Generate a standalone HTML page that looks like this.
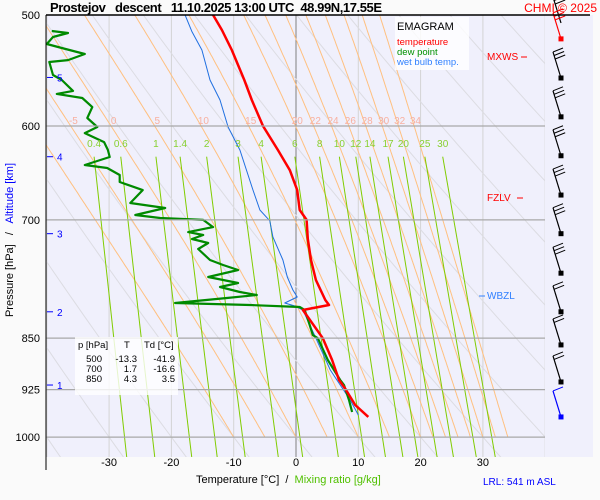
<!DOCTYPE html>
<html><head><meta charset="utf-8"><style>
html,body{margin:0;padding:0;background:#fafafa;}
body{width:600px;height:500px;overflow:hidden;font-family:"Liberation Sans",sans-serif;}
svg{display:block;}
svg text{font-family:"Liberation Sans",sans-serif;white-space:pre;}
</style></head><body>
<svg id="c" width="600" height="500" xmlns="http://www.w3.org/2000/svg">
<defs><clipPath id="pc"><rect x="46" y="15" width="499" height="442"/></clipPath></defs>
<rect x="46" y="15" width="547" height="442" fill="#f0f0fc"/>
<g id="grid" clip-path="url(#pc)"></g>
<g id="series" clip-path="url(#pc)"></g>
<g id="labels"></g>
<g id="barbs"></g>
<line x1="46" y1="15" x2="590" y2="15" stroke="#000" stroke-width="1.5"/>
<line x1="46" y1="15" x2="46" y2="470" stroke="#000" stroke-width="1"/>
<text x="50" y="12" font-size="13" font-weight="bold" textLength="332" lengthAdjust="spacing">Prostejov   descent   11.10.2025 13:00 UTC  48.99N,17.55E</text>
<text x="597" y="12" font-size="12" fill="#ff0000" text-anchor="end">CHMI © 2025</text>
<g>
<rect x="395" y="17" width="74" height="53" fill="#ffffff" opacity="0.8"/>
<text x="397" y="30" font-size="11">EMAGRAM</text>
<text x="397" y="45" font-size="9.5" fill="#ff0000">temperature</text>
<text x="397" y="55" font-size="9.5" fill="#009000">dew point</text>
<text x="397" y="65" font-size="9.5" fill="#3080ff">wet bulb temp.</text>
</g>
<g font-size="9.5">
<rect x="75" y="337" width="103" height="58" fill="#ffffff" opacity="0.8"/>
<text x="78" y="348">p [hPa]</text><text x="124" y="348">T</text><text x="144" y="348">Td [°C]</text>
<text x="102" y="362" text-anchor="end">500</text><text x="137" y="362" text-anchor="end">-13.3</text><text x="175" y="362" text-anchor="end">-41.9</text>
<text x="102" y="372" text-anchor="end">700</text><text x="137" y="372" text-anchor="end">1.7</text><text x="175" y="372" text-anchor="end">-16.6</text>
<text x="102" y="382" text-anchor="end">850</text><text x="137" y="382" text-anchor="end">4.3</text><text x="175" y="382" text-anchor="end">3.5</text>
</g>
<text transform="translate(13,240) rotate(-90)" font-size="11" text-anchor="middle">Pressure [hPa]   /   <tspan fill="#0000ff">Altitude [km]</tspan></text>
<text x="196" y="483" font-size="11">Temperature [°C]  /  <tspan fill="#50c000">Mixing ratio [g/kg]</tspan></text>
<text x="483" y="485" font-size="10" fill="#0000ff">LRL: 541 m ASL</text>
<g font-size="10">
<text x="487" y="60" fill="#ff0000">MXWS</text><line x1="521" y1="57" x2="527" y2="57" stroke="#ff0000"/>
<text x="487" y="201" fill="#ff0000">FZLV</text><line x1="517" y1="198" x2="523" y2="198" stroke="#ff0000"/>
<text x="487" y="299" fill="#3080ff">WBZL</text><line x1="479" y1="296" x2="485" y2="296" stroke="#3080ff"/>
</g>
</svg>
<script>
// ---- data ----
const pressureTicks = [500, 600, 700, 850, 925, 1000];
const tempTicks = [-30, -20, -10, 0, 10, 20, 30];
const altLabels = [5, 4, 3, 2, 1];
const altPressures = [554, 631, 716, 814, 918];
const thetaW = [-10, -5, 0, 5, 10, 15, 20, 22, 24, 26, 28, 30, 32, 34];
const thetaWLabels = [-5, 0, 5, 10, 15, 20, 22, 24, 26, 28, 30, 32, 34];
const mixRatios = [0.4, 0.6, 1, 1.4, 2, 3, 4, 6, 8, 10, 12, 14, 17, 20, 25, 30];
const dryTheta = [-40, -30, -20, -10, 0, 10, 20, 30, 40, 50, 60, 70, 80, 90, 100, 110, 120];

const tempP = [500, 512.5, 529.6, 556.3, 574.9, 600, 624.1, 645, 666.6, 688.7, 700, 722.3, 747.6, 772.6, 798.4, 805, 811.6, 850, 881, 910.5, 925, 948.6, 967.4];
const tempT = [-13.3, -11.9, -10.3, -8.3, -7.1, -5.3, -2.9, -1.0, 0.2, 0.6, 1.7, 1.9, 2.4, 3.2, 4.7, 5.3, 1.1, 4.3, 5.8, 6.9, 8.0, 9.5, 11.6];

const dewP = [513.3, 515.0, 518.4, 524.4, 527.8, 533.1, 538.4, 540.1, 551.8, 556.3, 566.4, 569.2, 573.0, 581.6, 592.1, 601.0, 607.0, 616.0, 624.1, 631.3, 639.6, 642.8, 650.2, 657.8, 666.6, 680.8, 686.4, 694.4, 697.8, 700, 708.3, 714.1, 717.6, 722.3, 727.0, 734.2, 747.6, 753.8, 760.0, 768.8, 776.4, 781.5, 788.0, 791.9, 795.8, 802.3, 805, 807.6, 811.6, 831.9, 845.8, 850, 881, 910.5, 918, 940.9, 959.6];
const dewT = [-39.2, -36.6, -39.0, -40.0, -37.6, -33.9, -36.6, -39.6, -39.0, -37.6, -35.8, -38.4, -34.3, -32.7, -33.5, -31.9, -33.9, -30.8, -30.2, -29.9, -33.9, -30.3, -28.3, -28.3, -24.6, -26.6, -21.0, -25.8, -21.8, -14.9, -13.3, -17.3, -14.9, -16.7, -14.1, -15.7, -13.8, -11.7, -9.3, -14.1, -9.3, -12.2, -9.0, -6.3, -11.1, -19.4, -7.4, 0.6, 1.4, 2.2, 2.7, 3.5, 5.1, 7.1, 7.7, 8.5, 9.0];

const wbP = [500, 514, 529.6, 556.3, 574.9, 601, 624.1, 666.6, 688.7, 701, 719.9, 747.6, 768.8, 785.4, 794.5, 802.3, 806.3, 811.6, 850, 895.6, 918, 940.9, 964.3];
const wbT = [-17.8, -16.7, -15.1, -13.8, -12.2, -10.9, -9.0, -6.9, -5.8, -4.2, -3.7, -2.1, -1.4, -0.5, 0.2, -1.8, -0.2, 1.1, 3.2, 5.5, 7.1, 8.7, 10.0];

const barbP = [500, 520, 554.5, 591, 630, 672, 716, 764, 814, 859.5, 913.4, 967.4];
const barbN = [3, 3, 3, 3, 3, 3, 3, 3, 2, 2, 2, 1];
const barbColor = ['#000', '#f00', '#000', '#000', '#000', '#000', '#000', '#000', '#000', '#000', '#000', '#00f'];

// ---- scales ----
const X = t => 296 + 6.23 * t;
const Y = p => 15 + 609 * Math.log(p / 500);
const NS = 'http://www.w3.org/2000/svg';
function mk(tag, attrs, parent) {
  const e = document.createElementNS(NS, tag);
  for (const k in attrs) e.setAttribute(k, attrs[k]);
  parent.appendChild(e);
  return e;
}
const grid = document.getElementById('grid');
const series = document.getElementById('series');
const labels = document.getElementById('labels');
const barbs = document.getElementById('barbs');

for (let t = -40; t <= 40; t += 10) {
  const l = mk('line', {x1: X(t), y1: 15, x2: X(t), y2: 457, stroke: t === 0 ? '#808080' : '#d4d4d4', 'stroke-width': 1}, grid);
  
  
}
dryTheta.forEach(th => {
  let d = '';
  for (let p = 1040; p >= 490; p -= 10) {
    const t = (th + 273.15) * Math.pow(p / 1000, 0.286) - 273.15;
    d += (d ? 'L' : 'M') + X(t).toFixed(1) + ',' + Y(p).toFixed(1);
  }
  const e = mk('path', {d: d, fill: 'none', stroke: '#dcdce2', 'stroke-width': 1}, grid);
  
  
});
function lapse(T, p) {
  const es = 6.112 * Math.exp(17.67 * (T - 273.15) / (T - 29.65));
  const rs = 0.622 * es / (p - es);
  return (287 * T + 2.5e6 * rs) / (p * (1004 + 2.5e6 * 2.5e6 * rs * 0.622 / (287 * T * T)));
}
const moistAt = {};
thetaW.forEach(tw => {
  let T = tw + 273.15, d = 'M' + X(tw).toFixed(1) + ',' + Y(1000).toFixed(1);
  const pts = {};
  for (let p = 1000; p > 495; p -= 2) {
    T -= lapse(T, p) * 2;
    d += 'L' + X(T - 273.15).toFixed(1) + ',' + Y(p - 2).toFixed(1);
    pts[p - 2] = T - 273.15;
  }
  moistAt[tw] = pts;
  const e = mk('path', {d: d, fill: 'none', stroke: '#ffc080', 'stroke-width': 1}, grid);
  
  
});
function tMix(w, p) {
  const e = w * p / (622 + w);
  const l = Math.log(e / 6.112);
  return 243.5 * l / (17.67 - l);
}
mixRatios.forEach(w => {
  const e = mk('line', {x1: X(tMix(w, 1035)), y1: Y(1035), x2: X(tMix(w, 631)), y2: Y(631), stroke: '#80cc00', 'stroke-width': 1}, grid);
  
  
  const tx = mk('text', {x: X(tMix(w, 631)), y: 147, 'font-size': 10, fill: '#88d030', 'text-anchor': 'middle'}, labels);
  tx.textContent = w;
  
  
});
pressureTicks.forEach(p => {
  if (p !== 500) {
    const l = mk('line', {x1: 46, y1: Y(p), x2: 545, y2: Y(p), stroke: '#a8a8a8', 'stroke-width': 1.2}, labels);
    
    
  }
  const t = mk('text', {x: 40, y: Y(p) + 4, 'font-size': 11, 'text-anchor': 'end'}, labels);
  t.textContent = p;
  
  
});
thetaWLabels.forEach(tw => {
  const tt = moistAt[tw][604] !== undefined ? moistAt[tw][604] : moistAt[tw][606];
  const t = mk('text', {x: X(tt), y: 124, 'font-size': 10, fill: '#f8b0a0', 'text-anchor': 'middle'}, labels);
  t.textContent = tw;
  
  
});
tempTicks.forEach(tv => {
  const t = mk('text', {x: X(tv), y: 466, 'font-size': 11, 'text-anchor': 'middle'}, labels);
  t.textContent = tv;
  
  
});
altLabels.forEach((a, i) => {
  const y = Y(altPressures[i]);
  const l = mk('line', {x1: 47, y1: y, x2: 53, y2: y, stroke: '#0000ff'}, labels);
  
  
  const t = mk('text', {x: 57, y: y + 4, 'font-size': 10, fill: '#0000ff'}, labels);
  t.textContent = a;
  
  
});
function line(P, T, color, w, name) {
  const d = P.map((p, i) => (i ? 'L' : 'M') + X(T[i]).toFixed(1) + ',' + Y(p).toFixed(1)).join('');
  const e = mk('path', {d: d, fill: 'none', stroke: color, 'stroke-width': w, 'stroke-linejoin': 'round'}, series);
  
  
}
line(wbP, wbT, '#1f6fe0', 1, 'wet-bulb-line');
line(dewP, dewT, '#008a00', 2.2, 'dew-point-line');
line(tempP, tempT, '#ff0000', 2.5, 'temperature-line');
barbP.forEach((p, i) => {
  const y = Y(p) + (i === 0 ? 8 : 0), x = 561, c = barbColor[i];
  const g = mk('g', {stroke: c, fill: c}, barbs);
  
  
  const tx = x - 8, ty = y - 26;
  mk('line', {x1: x, y1: y, x2: tx, y2: ty, 'stroke-width': 1.2}, g);
  for (let k = 0; k < barbN[i]; k++) {
    const by = ty + k * 3.5, bx = tx + k * 1.1;
    mk('line', {x1: bx, y1: by, x2: bx + 10, y2: by - 4, 'stroke-width': 1}, g);
  }
  if (i > 0) mk('rect', {x: x - 2, y: y - 2, width: 4, height: 4}, g);
});
</script>
</body></html>
